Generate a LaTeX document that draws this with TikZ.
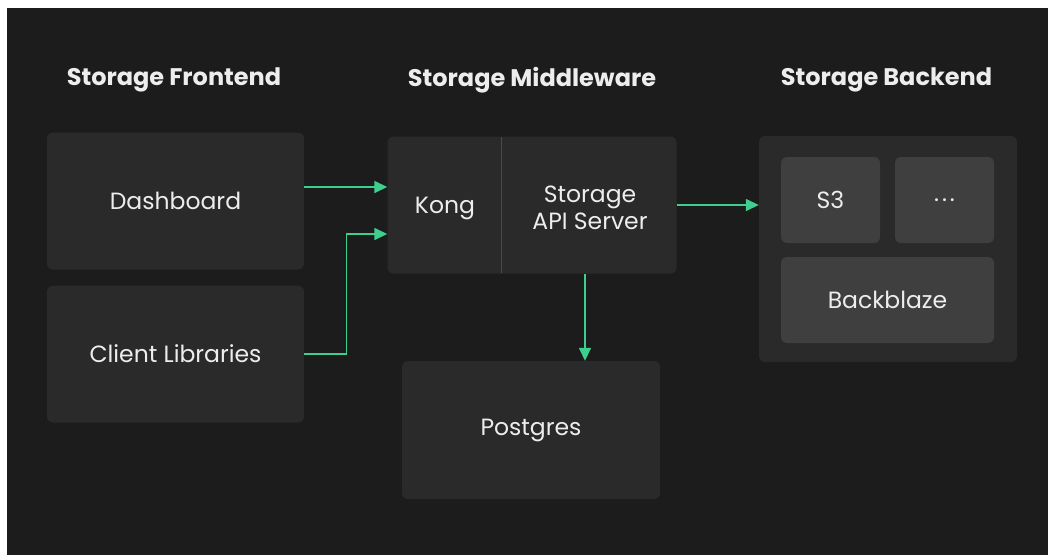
\documentclass[tikz,border=0pt]{standalone}
\usepackage{fontspec}
\setmainfont{Poppins}
\usetikzlibrary{arrows.meta}
\definecolor{bgdark}{HTML}{1C1C1C}
\definecolor{boxgray}{HTML}{2A2A2A}
\definecolor{tilegray}{HTML}{3F3F3F}
\definecolor{divgray}{HTML}{4A4A4A}
\definecolor{sbgreen}{HTML}{3ECF8E}
\definecolor{txtwhite}{HTML}{EDEDED}

\begin{document}
\begin{tikzpicture}[x=1pt,y=-1pt,
  title/.style={text=txtwhite,font=\fontsize{24}{28}\selectfont\bfseries},
  label/.style={text=txtwhite,font=\fontsize{23.5}{27}\selectfont,align=center},
  block/.style={label,fill=boxgray,rounded corners=6pt,inner sep=0pt},
  tile/.style={block,fill=tilegray},
  flow/.style={draw=sbgreen,line width=1.5pt,-{Triangle[length=13pt,width=12pt]}}]
  % background
  \fill[white] (0,0) rectangle (1048,555);
  \fill[bgdark] (7,8) rectangle (1048,555);
  \useasboundingbox (0,0) rectangle (1048,555);
  % column headings
  \node[title] (hfront) at (174,80) {Storage Frontend};
  \node[title] (hmid) at (532,80) {Storage Middleware};
  \node[title] (hback) at (886.5,80) {Storage Backend};
  % frontend
  \node[block,minimum width=257pt,minimum height=137pt] (dash) at (175.5,201) {Dashboard};
  \node[block,minimum width=257pt,minimum height=137pt] (client) at (175.5,354) {Client Libraries};
  % middleware
  \node[block,minimum width=289pt,minimum height=137pt] (mid) at (532,205) {};
  \draw[divgray,line width=1pt] (501,137) -- (501,273);
  \node[label] (kong) at (445,208) {Kong};
  \node[label] (api) at (590,208) {Storage\\API Server};
  \node[block,minimum width=258pt,minimum height=138pt] (pg) at (531,430) {Postgres};
  % backend
  \node[block,minimum width=258pt,minimum height=226pt] (back) at (888,249) {};
  \node[tile,minimum width=99pt,minimum height=86pt] (s3) at (830.5,200) {S3};
  \node[tile,minimum width=99pt,minimum height=86pt] (more) at (944.5,200) {.\hspace{3pt}.\hspace{3pt}.};
  \node[tile,minimum width=213pt,minimum height=86pt] (bb) at (887.5,300) {Backblaze};
  % connectors
  \coordinate (in1) at ([yshift=18pt]mid.west);
  \coordinate (in2) at ([yshift=-29pt]mid.west);
  \draw[flow] (dash.east |- in1) -- (in1);
  \draw[flow] (client.east) -| ([xshift=-41pt]in2) -- (in2);
  \draw[flow] (mid.east) -- (mid.east -| back.west);
  \coordinate (pgin) at ([xshift=54pt]pg.north);
  \draw[flow] (pgin |- mid.south) -- (pgin);
\end{tikzpicture}
\end{document}
